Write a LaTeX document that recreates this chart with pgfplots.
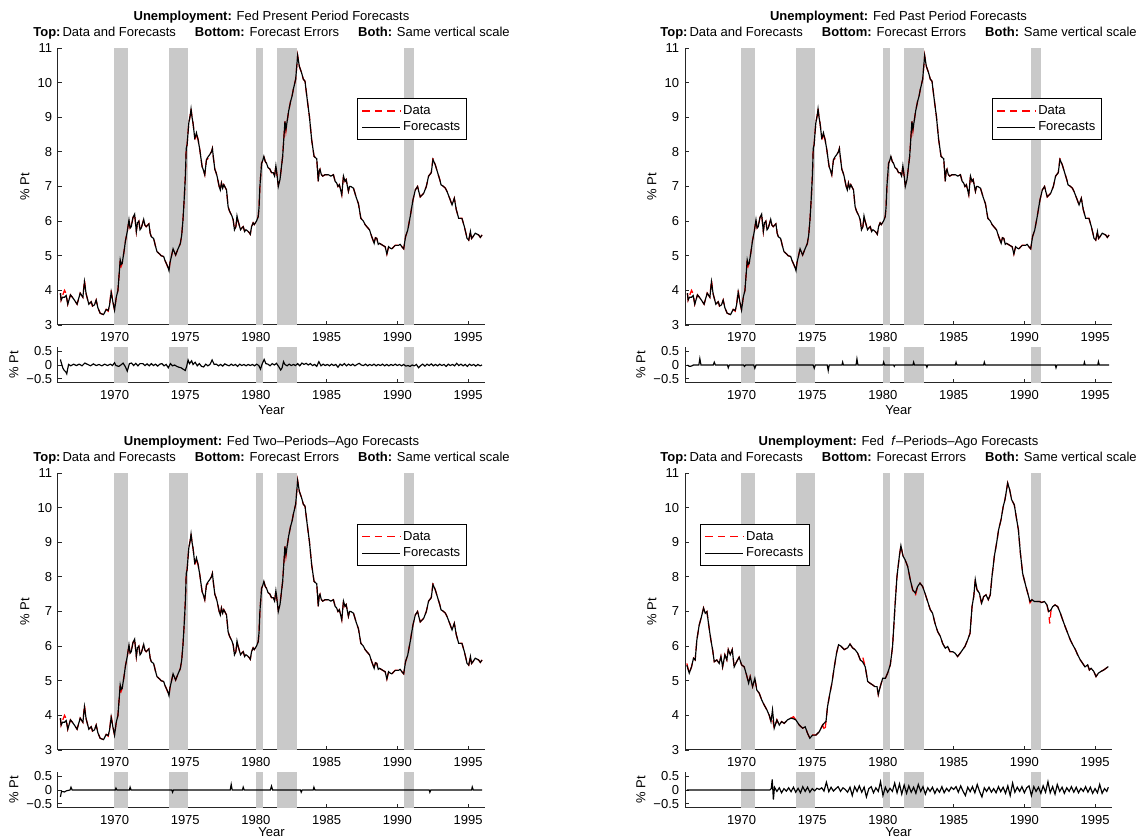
\documentclass[border=0pt]{standalone}
\usepackage{fontspec}
\setmainfont{Liberation Sans}
\usepackage{pgfplots}
\pgfplotsset{compat=1.18}
\usepackage{pgfplotstable}

\newcommand{\fsz}{\fontsize{7.8}{9.4}\selectfont}
\definecolor{shade}{RGB}{201,201,201}

% Panels 1-3: data (u) and forecasts (f)
\pgfplotstableread{
year u f
1966.17 3.92 3.92
1966.22 3.72 3.72
1966.32 3.85 3.80
1966.46 4.00 3.80
1966.58 3.90 3.85
1966.69 3.60 3.60
1966.88 3.87 3.87
1967.02 3.80 3.80
1967.16 3.72 3.72
1967.35 3.60 3.60
1967.57 3.92 3.92
1967.76 3.80 3.80
1967.87 4.30 4.25
1967.99 3.90 3.90
1968.18 3.60 3.60
1968.35 3.67 3.67
1968.45 3.52 3.55
1968.58 3.58 3.58
1968.70 3.72 3.72
1968.82 3.50 3.50
1968.98 3.34 3.34
1969.22 3.30 3.30
1969.41 3.45 3.45
1969.55 3.40 3.42
1969.65 3.58 3.58
1969.76 4.00 3.95
1969.88 3.67 3.67
1970.00 3.43 3.43
1970.12 3.80 3.80
1970.24 4.00 4.00
1970.40 4.88 4.88
1970.47 4.70 4.75
1970.54 4.78 4.78
1970.66 5.10 5.10
1970.78 5.45 5.45
1970.90 5.70 5.70
1971.02 6.04 6.04
1971.10 5.80 5.80
1971.18 5.84 5.84
1971.30 6.10 6.10
1971.42 6.20 6.20
1971.54 5.70 5.70
1971.62 5.95 5.95
1971.72 6.00 6.00
1971.80 5.75 5.75
1971.89 5.80 5.80
1972.06 6.05 6.05
1972.15 5.88 5.88
1972.24 5.84 5.84
1972.43 5.92 5.92
1972.52 5.65 5.65
1972.60 5.55 5.55
1972.76 5.53 5.50
1972.88 5.30 5.30
1973.00 5.12 5.12
1973.19 5.05 5.05
1973.30 5.00 5.00
1973.47 4.98 4.98
1973.58 4.85 4.85
1973.66 4.78 4.78
1973.75 4.68 4.70
1973.85 4.57 4.57
1973.92 4.80 4.80
1974.02 4.98 4.98
1974.14 5.20 5.20
1974.24 5.10 5.10
1974.32 5.02 5.02
1974.49 5.20 5.20
1974.65 5.35 5.35
1974.75 5.60 5.60
1974.84 6.04 6.04
1974.92 6.60 6.60
1975.01 7.30 7.30
1975.07 8.10 8.10
1975.13 8.20 8.20
1975.25 8.83 8.83
1975.35 9.05 9.05
1975.41 9.24 9.24
1975.48 9.00 9.00
1975.55 8.83 8.83
1975.67 8.45 8.40
1975.73 8.40 8.45
1975.79 8.55 8.55
1975.91 8.35 8.35
1976.03 8.06 8.06
1976.10 7.85 7.85
1976.19 7.58 7.58
1976.30 7.45 7.45
1976.38 7.34 7.34
1976.50 7.77 7.77
1976.60 7.80 7.85
1976.73 7.92 7.92
1976.85 8.00 8.00
1976.92 8.10 8.10
1977.00 7.80 7.80
1977.09 7.50 7.50
1977.18 7.40 7.40
1977.25 7.30 7.30
1977.40 7.00 7.00
1977.48 6.90 6.90
1977.56 7.10 7.10
1977.65 6.95 6.95
1977.73 7.05 7.05
1977.92 6.90 6.90
1978.03 6.42 6.42
1978.12 6.30 6.30
1978.20 6.23 6.23
1978.30 6.15 6.15
1978.39 6.04 6.04
1978.48 5.75 5.75
1978.58 5.84 5.84
1978.66 6.10 6.15
1978.74 6.00 6.00
1978.91 5.75 5.75
1979.00 5.80 5.80
1979.10 5.84 5.84
1979.20 5.70 5.70
1979.29 5.75 5.75
1979.40 5.72 5.72
1979.52 5.67 5.67
1979.60 5.62 5.62
1979.69 5.84 5.84
1979.80 5.95 5.95
1979.88 5.90 5.90
1980.04 6.00 6.00
1980.16 6.13 6.13
1980.22 6.40 6.40
1980.28 7.00 7.00
1980.40 7.67 7.67
1980.48 7.75 7.75
1980.56 7.87 7.87
1980.66 7.72 7.72
1980.75 7.67 7.67
1980.85 7.55 7.55
1980.99 7.50 7.50
1981.10 7.40 7.40
1981.22 7.40 7.40
1981.32 7.30 7.30
1981.41 7.60 7.60
1981.50 7.30 7.30
1981.58 7.05 7.00
1981.70 7.20 7.20
1981.89 7.87 7.87
1982.05 8.88 8.88
1982.12 8.60 8.65
1982.17 8.78 8.78
1982.31 9.17 9.17
1982.45 9.46 9.46
1982.55 9.60 9.60
1982.64 9.80 9.80
1982.81 10.10 10.10
1982.95 10.78 10.78
1983.07 10.47 10.47
1983.23 10.28 10.28
1983.35 10.10 10.10
1983.47 10.04 10.04
1983.63 9.50 9.50
1983.78 9.03 9.03
1983.94 8.35 8.35
1984.11 7.87 7.87
1984.30 7.80 7.80
1984.41 7.15 7.15
1984.47 7.45 7.45
1984.53 7.50 7.50
1984.62 7.35 7.35
1984.72 7.30 7.30
1984.89 7.34 7.34
1985.12 7.34 7.34
1985.30 7.30 7.30
1985.48 7.34 7.34
1985.60 7.15 7.15
1985.71 7.10 7.10
1985.80 7.00 7.00
1985.90 7.05 7.05
1986.07 6.76 6.76
1986.19 7.30 7.30
1986.30 7.15 7.15
1986.38 7.20 7.20
1986.54 6.86 6.86
1986.62 7.00 7.00
1986.71 7.00 7.00
1986.90 6.95 6.95
1987.08 6.70 6.70
1987.25 6.50 6.50
1987.42 6.08 6.08
1987.60 6.00 6.00
1987.72 5.90 5.90
1987.84 5.84 5.84
1988.03 5.75 5.75
1988.19 5.55 5.55
1988.36 5.36 5.36
1988.45 5.52 5.52
1988.55 5.50 5.50
1988.65 5.33 5.33
1988.74 5.36 5.36
1988.97 5.30 5.30
1989.14 5.26 5.26
1989.26 5.05 5.05
1989.38 5.26 5.26
1989.50 5.22 5.22
1989.61 5.20 5.20
1989.85 5.30 5.30
1990.08 5.30 5.30
1990.20 5.33 5.33
1990.32 5.26 5.26
1990.45 5.20 5.20
1990.58 5.55 5.55
1990.74 5.75 5.75
1990.91 6.13 6.13
1991.10 6.60 6.60
1991.27 6.90 6.90
1991.43 7.00 7.00
1991.52 6.85 6.85
1991.62 6.70 6.70
1991.74 6.75 6.75
1991.86 6.80 6.80
1992.05 7.00 7.00
1992.21 7.30 7.30
1992.40 7.40 7.40
1992.52 7.82 7.78
1992.68 7.63 7.63
1992.85 7.40 7.40
1993.00 7.20 7.20
1993.09 7.05 7.05
1993.27 7.00 7.00
1993.40 6.95 6.95
1993.51 6.86 6.86
1993.70 6.66 6.66
1993.87 6.47 6.47
1994.03 6.66 6.66
1994.17 6.33 6.33
1994.34 6.08 6.08
1994.57 6.08 6.08
1994.74 5.84 5.84
1994.85 5.65 5.65
1994.93 5.50 5.50
1995.05 5.45 5.45
1995.17 5.70 5.70
1995.25 5.50 5.50
1995.35 5.55 5.55
1995.51 5.65 5.65
1995.75 5.60 5.60
1995.87 5.53 5.53
1995.99 5.60 5.60
}\tabA

% Panel 4: data (u) and forecasts (f)
\pgfplotstableread{
year u f
1966.13 5.50 5.45
1966.30 5.22 5.22
1966.46 5.40 5.40
1966.60 5.65 5.65
1966.72 5.60 5.60
1966.84 6.18 6.18
1967.00 6.60 6.60
1967.17 6.86 6.86
1967.31 7.10 7.10
1967.43 6.95 6.95
1967.55 7.00 7.00
1967.69 6.57 6.57
1967.83 6.18 6.18
1967.95 5.90 5.90
1968.07 5.55 5.55
1968.25 5.60 5.60
1968.42 5.50 5.50
1968.54 5.70 5.70
1968.66 5.40 5.40
1968.82 5.75 5.75
1968.96 5.60 5.60
1969.06 5.90 5.90
1969.20 5.75 5.75
1969.34 5.90 5.90
1969.48 5.40 5.40
1969.65 5.55 5.55
1969.83 5.68 5.68
1970.00 5.46 5.46
1970.19 5.40 5.40
1970.35 5.17 5.17
1970.50 4.93 4.93
1970.61 5.12 5.12
1970.78 4.83 4.83
1970.94 5.07 5.07
1971.08 4.73 4.73
1971.25 4.64 4.64
1971.42 4.45 4.45
1971.60 4.30 4.30
1971.79 4.16 4.16
1971.96 4.00 4.00
1972.08 3.82 3.82
1972.19 3.90 4.16
1972.31 3.63 3.63
1972.50 3.87 3.87
1972.67 3.72 3.72
1972.83 3.82 3.82
1973.02 3.77 3.77
1973.25 3.87 3.87
1973.49 3.92 3.92
1973.68 3.96 3.90
1973.84 3.87 3.87
1974.08 3.72 3.72
1974.32 3.63 3.63
1974.50 3.67 3.67
1974.67 3.48 3.48
1974.83 3.34 3.34
1975.02 3.43 3.43
1975.26 3.43 3.43
1975.50 3.53 3.53
1975.73 3.72 3.72
1975.90 3.55 3.80
1975.97 3.82 3.82
1976.08 4.25 4.25
1976.25 4.64 4.64
1976.39 4.93 4.93
1976.56 5.40 5.40
1976.72 5.80 5.80
1976.86 6.04 6.04
1977.03 6.00 6.00
1977.26 5.90 5.90
1977.50 5.95 5.95
1977.67 6.06 6.06
1977.85 5.95 5.95
1978.02 5.90 5.90
1978.21 5.80 5.80
1978.40 5.60 5.60
1978.56 5.70 5.55
1978.75 5.40 5.40
1978.92 4.98 4.98
1979.08 4.93 4.93
1979.27 4.88 4.88
1979.43 4.83 4.83
1979.58 4.83 4.83
1979.67 4.60 4.60
1979.81 4.83 4.83
1979.98 5.07 5.07
1980.17 5.07 5.07
1980.33 5.22 5.22
1980.52 5.46 5.46
1980.68 5.99 5.99
1980.85 7.14 7.14
1980.99 8.00 8.00
1981.16 8.60 8.60
1981.27 8.90 8.90
1981.42 8.60 8.60
1981.56 8.50 8.50
1981.75 8.30 8.30
1981.93 7.92 7.92
1982.10 7.63 7.63
1982.29 7.45 7.53
1982.45 7.72 7.72
1982.62 7.82 7.82
1982.81 7.72 7.72
1982.97 7.53 7.53
1983.16 7.29 7.29
1983.35 7.05 7.05
1983.51 6.95 6.95
1983.68 6.66 6.66
1983.87 6.42 6.42
1984.06 6.28 6.28
1984.22 6.08 6.08
1984.41 5.94 5.94
1984.58 5.99 5.99
1984.74 5.84 5.84
1984.93 5.84 5.84
1985.09 5.80 5.80
1985.28 5.70 5.70
1985.47 5.80 5.80
1985.64 5.90 5.90
1985.80 5.99 5.99
1985.99 6.18 6.18
1986.16 6.37 6.37
1986.30 7.14 7.14
1986.42 7.43 7.43
1986.53 7.92 7.92
1986.65 7.63 7.63
1986.82 7.53 7.53
1986.98 7.20 7.24
1987.12 7.43 7.43
1987.29 7.48 7.48
1987.45 7.34 7.34
1987.59 7.48 7.48
1987.71 8.00 8.00
1987.88 8.60 8.60
1988.04 8.98 8.98
1988.18 9.36 9.36
1988.35 9.65 9.65
1988.51 10.04 10.04
1988.63 10.23 10.23
1988.82 10.71 10.71
1988.96 10.52 10.52
1989.10 10.23 10.23
1989.29 10.08 10.08
1989.46 9.65 9.65
1989.58 9.36 9.36
1989.72 8.69 8.69
1989.88 8.10 8.10
1990.05 7.82 7.82
1990.24 7.53 7.53
1990.40 7.25 7.29
1990.54 7.34 7.34
1990.71 7.29 7.29
1990.87 7.29 7.29
1991.06 7.29 7.29
1991.23 7.26 7.26
1991.42 7.29 7.29
1991.60 7.19 7.19
1991.72 6.95 7.00
1991.80 6.65 7.02
1991.89 7.05 7.05
1992.00 7.14 7.14
1992.17 7.19 7.19
1992.36 7.14 7.14
1992.55 6.95 6.95
1992.71 6.76 6.76
1992.88 6.57 6.57
1993.07 6.37 6.37
1993.25 6.18 6.18
1993.42 6.04 6.04
1993.61 5.90 5.90
1993.77 5.75 5.75
1993.96 5.60 5.60
1994.13 5.50 5.50
1994.29 5.40 5.40
1994.48 5.46 5.46
1994.60 5.31 5.31
1994.72 5.36 5.36
1994.91 5.27 5.27
1995.07 5.12 5.12
1995.24 5.22 5.22
1995.42 5.27 5.27
1995.61 5.31 5.31
1995.78 5.36 5.36
1995.94 5.41 5.41
}\tabD

% Forecast errors, panel 1
\pgfplotstableread{
year e
1966.17 0.20
1966.25 0.05
1966.35 -0.12
1966.45 -0.20
1966.55 -0.25
1966.62 -0.32
1966.68 -0.15
1966.75 0.02
1966.90 -0.03
1967.10 0.03
1967.30 -0.02
1967.50 0.03
1967.70 -0.03
1967.90 0.07
1968.10 0.02
1968.30 -0.03
1968.50 0.04
1968.70 -0.02
1968.90 0.02
1969.10 -0.03
1969.30 0.03
1969.50 -0.02
1969.70 0.03
1969.85 -0.02
1970.00 0.08
1970.10 -0.02
1970.30 -0.05
1970.50 0.02
1970.60 0.07
1970.75 -0.05
1970.90 -0.22
1971.05 0.05
1971.20 0.07
1971.35 -0.02
1971.50 0.06
1971.65 -0.03
1971.80 0.05
1972.00 0.05
1972.15 -0.02
1972.30 0.04
1972.45 -0.03
1972.60 0.05
1972.75 -0.02
1972.90 0.03
1973.05 -0.04
1973.20 0.03
1973.35 0.05
1973.50 -0.03
1973.65 0.02
1973.80 -0.10
1973.95 0.05
1974.10 -0.03
1974.25 0.00
1974.40 -0.05
1974.55 -0.08
1974.70 -0.10
1974.85 -0.15
1975.00 -0.20
1975.10 -0.05
1975.20 0.18
1975.30 0.05
1975.45 0.15
1975.55 0.02
1975.70 0.10
1975.85 -0.03
1976.00 0.05
1976.15 -0.05
1976.30 -0.07
1976.45 0.03
1976.60 -0.03
1976.75 0.02
1976.90 0.18
1977.05 0.02
1977.20 0.03
1977.35 -0.03
1977.50 0.02
1977.65 -0.04
1977.80 0.04
1977.95 0.00
1978.10 -0.03
1978.25 0.03
1978.40 -0.02
1978.55 0.02
1978.70 -0.05
1978.85 0.03
1979.00 -0.02
1979.15 0.02
1979.30 -0.03
1979.45 0.02
1979.60 -0.02
1979.75 0.02
1979.90 -0.03
1980.05 0.03
1980.20 -0.02
1980.32 -0.15
1980.45 0.05
1980.58 0.20
1980.70 0.05
1980.85 0.03
1981.00 -0.03
1981.15 0.05
1981.30 0.00
1981.45 0.06
1981.60 -0.05
1981.75 -0.18
1981.85 -0.10
1981.95 0.12
1982.05 0.02
1982.20 -0.03
1982.35 0.03
1982.50 -0.02
1982.65 0.02
1982.80 -0.02
1982.95 0.05
1983.10 -0.03
1983.25 0.07
1983.40 0.02
1983.55 0.06
1983.70 0.00
1983.85 0.05
1984.00 -0.02
1984.15 0.02
1984.30 -0.05
1984.45 0.12
1984.60 -0.03
1984.75 0.03
1984.90 -0.02
1985.05 0.02
1985.20 -0.03
1985.35 0.03
1985.50 -0.02
1985.65 0.02
1985.80 -0.08
1985.95 0.03
1986.10 -0.02
1986.25 0.05
1986.40 -0.03
1986.55 0.03
1986.70 -0.02
1986.85 0.03
1987.00 -0.03
1987.15 0.02
1987.30 0.06
1987.45 0.00
1987.60 -0.02
1987.75 0.03
1987.90 -0.03
1988.05 0.02
1988.20 -0.02
1988.35 0.03
1988.50 -0.03
1988.65 0.02
1988.80 -0.02
1988.95 0.03
1989.10 -0.03
1989.25 0.02
1989.40 -0.03
1989.55 0.02
1989.70 -0.02
1989.85 0.03
1990.00 -0.02
1990.15 0.02
1990.30 -0.03
1990.45 0.02
1990.60 -0.04
1990.75 -0.02
1990.90 -0.05
1991.05 0.00
1991.20 -0.03
1991.35 0.02
1991.50 -0.10
1991.65 -0.02
1991.80 0.03
1991.95 -0.04
1992.10 0.03
1992.25 -0.02
1992.40 0.04
1992.55 -0.03
1992.70 0.02
1992.85 -0.03
1993.00 0.03
1993.15 -0.02
1993.30 0.02
1993.45 -0.05
1993.60 0.03
1993.75 -0.02
1993.90 0.02
1994.05 -0.03
1994.20 0.06
1994.35 -0.02
1994.50 0.03
1994.65 -0.03
1994.80 0.02
1994.95 -0.05
1995.10 0.03
1995.25 -0.02
1995.40 0.02
1995.55 -0.04
1995.70 0.02
1995.85 -0.03
1995.99 0.00
}\tabEa

% Forecast errors, panel 2
\pgfplotstableread{
year e
1966.17 0.00
1966.30 -0.05
1966.45 -0.04
1966.60 0.00
1966.98 0.00
1967.05 0.23
1967.13 0.00
1968.00 0.00
1968.07 0.10
1968.15 0.00
1969.00 0.00
1969.06 -0.10
1969.13 0.00
1970.15 0.00
1970.20 -0.05
1970.30 0.00
1970.86 0.00
1970.94 -0.12
1971.02 0.00
1975.06 0.00
1975.14 -0.12
1975.22 0.00
1976.06 0.00
1976.13 -0.20
1976.20 0.00
1977.10 0.00
1977.15 0.10
1977.20 0.00
1978.10 0.00
1978.16 0.22
1978.23 0.00
1980.00 0.00
1980.05 0.10
1980.12 0.00
1980.75 0.00
1980.80 -0.05
1980.85 0.00
1982.12 0.00
1982.17 0.10
1982.23 0.00
1983.05 0.00
1983.11 -0.08
1983.17 0.00
1985.12 0.00
1985.17 0.10
1985.23 0.00
1987.12 0.00
1987.17 0.10
1987.23 0.00
1992.19 0.00
1992.24 -0.10
1992.30 0.00
1994.20 0.00
1994.25 0.10
1994.30 0.00
1995.19 0.00
1995.24 0.12
1995.30 0.00
1995.99 0.00
}\tabEb

% Forecast errors, panel 3
\pgfplotstableread{
year e
1966.17 -0.25
1966.25 -0.05
1966.45 -0.07
1966.60 -0.03
1966.85 0.00
1966.92 0.10
1967.00 0.00
1970.05 0.00
1970.10 0.07
1970.17 0.00
1971.05 0.00
1971.10 0.10
1971.17 0.00
1974.05 0.00
1974.10 -0.08
1974.17 0.00
1978.18 0.00
1978.25 0.20
1978.32 0.00
1979.05 0.00
1979.10 0.10
1979.17 0.00
1981.02 0.00
1981.10 0.14
1981.18 0.00
1983.15 0.00
1983.20 -0.08
1983.27 0.00
1984.05 0.00
1984.10 0.10
1984.17 0.00
1992.25 0.00
1992.30 -0.08
1992.37 0.00
1995.25 0.00
1995.30 0.11
1995.37 0.00
1995.99 0.00
}\tabEc

% Forecast errors, panel 4
\pgfplotstableread{
year e
1966.13 0.00
1972.00 0.00
1972.10 0.05
1972.17 0.38
1972.25 -0.35
1972.33 0.10
1972.50 -0.05
1972.67 0.08
1972.83 -0.10
1973.00 0.05
1973.17 -0.04
1973.33 0.08
1973.50 -0.06
1973.67 0.10
1973.83 -0.08
1974.00 0.06
1974.17 -0.10
1974.33 0.12
1974.50 -0.05
1974.67 0.10
1974.83 -0.08
1975.00 0.05
1975.17 -0.03
1975.33 0.06
1975.50 0.02
1975.67 0.08
1975.83 -0.04
1976.00 0.28
1976.17 -0.06
1976.33 0.10
1976.50 -0.04
1976.67 0.05
1976.83 0.12
1977.00 -0.05
1977.17 0.08
1977.33 0.02
1977.50 -0.08
1977.67 0.10
1977.83 -0.20
1978.00 0.12
1978.17 -0.05
1978.33 0.15
1978.50 -0.08
1978.67 0.10
1978.83 -0.25
1979.00 0.05
1979.17 0.12
1979.33 -0.10
1979.50 0.08
1979.67 -0.05
1979.83 0.30
1980.00 -0.20
1980.17 0.10
1980.33 -0.08
1980.50 0.06
1980.67 -0.05
1980.83 0.25
1981.00 -0.10
1981.17 0.22
1981.33 -0.15
1981.50 0.18
1981.67 -0.12
1981.83 0.15
1982.00 -0.08
1982.17 0.10
1982.33 -0.12
1982.50 0.20
1982.67 -0.05
1982.83 0.12
1983.00 -0.15
1983.17 0.08
1983.33 -0.05
1983.50 0.10
1983.67 -0.12
1983.83 0.05
1984.00 -0.08
1984.17 0.12
1984.33 -0.10
1984.50 0.06
1984.67 -0.05
1984.83 0.10
1985.00 0.02
1985.17 0.12
1985.33 -0.08
1985.50 0.15
1985.67 -0.05
1985.83 -0.20
1986.00 0.10
1986.17 -0.06
1986.33 0.12
1986.50 -0.10
1986.67 0.20
1986.83 -0.05
1987.00 -0.25
1987.17 0.08
1987.33 -0.05
1987.50 0.10
1987.67 -0.08
1987.83 0.05
1988.00 -0.10
1988.17 0.12
1988.33 -0.06
1988.50 0.10
1988.67 -0.12
1988.83 0.15
1989.00 -0.20
1989.17 0.25
1989.33 -0.08
1989.50 0.10
1989.67 -0.05
1989.83 0.12
1990.00 -0.10
1990.17 0.08
1990.33 0.15
1990.50 -0.20
1990.67 0.12
1990.83 -0.05
1991.00 0.10
1991.17 -0.12
1991.33 0.15
1991.50 -0.08
1991.67 0.30
1991.83 -0.10
1992.00 0.12
1992.17 -0.15
1992.33 0.20
1992.50 -0.05
1992.67 0.10
1992.83 -0.12
1993.00 0.08
1993.17 -0.05
1993.33 0.12
1993.50 -0.08
1993.67 0.10
1993.83 -0.10
1994.00 0.06
1994.17 -0.05
1994.33 0.12
1994.50 -0.08
1994.67 0.10
1994.83 -0.12
1995.00 0.05
1995.17 -0.10
1995.33 0.20
1995.50 -0.12
1995.67 0.05
1995.83 -0.05
1995.94 0.10
}\tabEd

\newcommand{\bands}[2]{%
\addplot[shadefill] coordinates {(1969.95,#1)(1969.95,#2)(1970.92,#2)(1970.92,#1)};
\addplot[shadefill] coordinates {(1973.84,#1)(1973.84,#2)(1975.20,#2)(1975.20,#1)};
\addplot[shadefill] coordinates {(1979.98,#1)(1979.98,#2)(1980.52,#2)(1980.52,#1)};
\addplot[shadefill] coordinates {(1981.48,#1)(1981.48,#2)(1982.90,#2)(1982.90,#1)};
\addplot[shadefill] coordinates {(1990.47,#1)(1990.47,#2)(1991.17,#2)(1991.17,#1)};
}

\newcommand{\titles}[2]{%
\node[anchor=base, font=\fsz, inner sep=0pt] at ([yshift=16.2pt]#1.north) {\textbf{Unemployment:} #2};
\node[anchor=base, font=\fsz, inner sep=0pt] at ([yshift=6.6pt]#1.north) {\textbf{Top:}\hspace{1.2pt}Data and Forecasts\hspace{11.4pt}\textbf{Bottom:} Forecast Errors\hspace{11.4pt}\textbf{Both:} Same vertical scale};
}

\pgfplotsset{
  shadefill/.style={fill=shade, draw=none, forget plot},
  datastyle/.style={red, line width=0.75pt, dash pattern=on 4.5pt off 3pt, no marks},
  fcststyle/.style={black, line width=0.7pt, no marks},
  base/.style={
    scale only axis, width=256.2pt,
    xmin=1966, xmax=1996.2,
    axis x line*=bottom, axis y line*=left,
    axis line style={-, line width=0.6pt, black!85},
    tick align=inside, major tick length=2.6pt,
    every tick/.style={black!85, line width=0.5pt},
    xtick={1970,1975,1980,1985,1990,1995},
    /pgf/number format/assume math mode=true,
    /pgf/number format/set thousands separator={},
    tick label style={font=\fsz},
    xticklabel style={anchor=center, yshift=-7.2pt},
  },
  mainax/.style={base, height=166.2pt, ymin=3, ymax=11, ytick={3,4,5,6,7,8,9,10,11},
    ylabel={\% Pt},
    ylabel style={font=\fsz, at={(axis description cs:-0.0773,0.5)}, anchor=center, rotate=0},
    legend cell align=left,
    legend image code/.code={\draw[##1] (0pt,0pt) -- (22.8pt,0pt);},
  },
  errax/.style={base, height=21.6pt, ymin=-0.65, ymax=0.65, ytick={-0.5,0,0.5},
    yticklabels={−0.5,0,0.5},
    ylabel={\% Pt},
    ylabel style={font=\fsz, at={(axis description cs:-0.103,0.5)}, anchor=center, rotate=0},
    xlabel={Year},
    xlabel style={font=\fsz, at={(axis description cs:0.5,#1)}, anchor=center},
  },
  errax/.default={-0.75},
  legstyle/.style={legend style={at={(rel axis cs:#1)}, anchor=north west, draw=black,
    line width=0.8pt, font=\fsz, fill=white, inner xsep=2.5pt, inner ysep=2.6pt,
    row sep=0.4pt, nodes={inner sep=1.3pt}}},
}

\begin{document}
\begin{tikzpicture}
\useasboundingbox (0pt,0pt) rectangle (688.8pt,503.4pt);

% ---------- Panel 1 ----------
\begin{axis}[mainax, name=pa, at={(34.8pt,308.4pt)}, anchor=south west, legstyle={0.700,0.8195}]
\bands{3}{11}
\addplot[datastyle] table[x=year,y=u] {\tabA};
\addplot[fcststyle] table[x=year,y=f] {\tabA};
\legend{Data,Forecasts}
\end{axis}
\titles{pa}{Fed Present Period Forecasts}
\begin{axis}[errax, at={(34.8pt,273.6pt)}, anchor=south west]
\bands{-0.65}{0.65}
\addplot[fcststyle] table[x=year,y=e] {\tabEa};
\end{axis}

% ---------- Panel 2 ----------
\begin{axis}[mainax, name=pb, at={(411pt,308.4pt)}, anchor=south west, legstyle={0.719,0.8195}]
\bands{3}{11}
\addplot[datastyle] table[x=year,y=u] {\tabA};
\addplot[fcststyle] table[x=year,y=f] {\tabA};
\legend{Data,Forecasts}
\end{axis}
\titles{pb}{Fed Past Period Forecasts}
\begin{axis}[errax, at={(411pt,273.6pt)}, anchor=south west]
\bands{-0.65}{0.65}
\addplot[fcststyle] table[x=year,y=e] {\tabEb};
\end{axis}

% ---------- Panel 3 ----------
\begin{axis}[mainax, name=pc, at={(34.8pt,53.4pt)}, anchor=south west, legstyle={0.700,0.816}]
\bands{3}{11}
\addplot[datastyle] table[x=year,y=u] {\tabA};
\addplot[fcststyle] table[x=year,y=f] {\tabA};
\legend{Data,Forecasts}
\end{axis}
\titles{pc}{Fed Two–Periods–Ago Forecasts}
\begin{axis}[errax={-0.667}, at={(34.8pt,18.6pt)}, anchor=south west]
\bands{-0.65}{0.65}
\addplot[fcststyle] table[x=year,y=e] {\tabEc};
\end{axis}

% ---------- Panel 4 ----------
\begin{axis}[mainax, name=pd, at={(411pt,53.4pt)}, anchor=south west, legstyle={0.035,0.816}]
\bands{3}{11}
\addplot[datastyle] table[x=year,y=u] {\tabD};
\addplot[fcststyle] table[x=year,y=f] {\tabD};
\legend{Data,Forecasts}
\end{axis}
\titles{pd}{Fed\ \ \textit{f}–Periods–Ago Forecasts}
\begin{axis}[errax={-0.667}, at={(411pt,18.6pt)}, anchor=south west]
\bands{-0.65}{0.65}
\addplot[fcststyle] table[x=year,y=e] {\tabEd};
\end{axis}
\end{tikzpicture}
\end{document}
